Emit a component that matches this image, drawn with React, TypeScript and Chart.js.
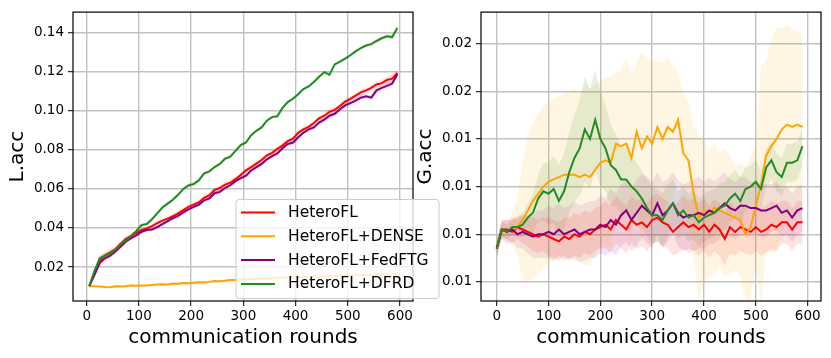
import React, { useEffect, useRef } from 'react';
import { Chart, registerables } from 'chart.js';

Chart.register(...registerables);

const FONT = 'DejaVu Sans';

// ---------- data ----------
const seriesNames = ['HeteroFL', 'HeteroFL+DENSE', 'HeteroFL+FedFTG', 'HeteroFL+DFRD'];
const seriesColors = ['#ff0000', '#ffa500', '#800080', '#228b22'];
const bandColors = ['rgba(255,0,0,0.11)', 'rgba(255,165,0,0.11)', 'rgba(128,0,128,0.11)', 'rgba(34,139,34,0.12)'];

const xTickValues = [0, 100, 200, 300, 400, 500, 600];
const xTickLabels = ['0', '100', '200', '300', '400', '500', '600'];
const leftYTickValues = [0.02, 0.04, 0.06, 0.08, 0.1, 0.12, 0.14];
const leftYTickLabels = ['0.02', '0.04', '0.06', '0.08', '0.10', '0.12', '0.14'];
const rightYTickValues = [0.008, 0.01, 0.012, 0.014, 0.016, 0.018];
const rightYTickLabels = ['0.01', '0.01', '0.01', '0.01', '0.02', '0.02'];

const leftRounds = [5, 15, 25, 35, 45, 55, 65, 75, 85, 95, 105, 115, 125, 135, 145, 155, 165, 175, 185, 195, 205, 215, 225, 235, 245, 255, 265, 275, 285, 295, 305, 315, 325, 335, 345, 355, 365, 375, 385, 395, 405, 415, 425, 435, 445, 455, 465, 475, 485, 495, 505, 515, 525, 535, 545, 555, 565, 575, 585, 595];

const leftHeteroFL = [0.0102, 0.0175, 0.0235, 0.026, 0.0275, 0.0292, 0.032, 0.0345, 0.036, 0.0375, 0.039, 0.0398, 0.041, 0.0425, 0.0438, 0.0448, 0.046, 0.0475, 0.0492, 0.0508, 0.052, 0.0532, 0.0555, 0.0568, 0.0595, 0.0605, 0.0622, 0.0632, 0.065, 0.0672, 0.0695, 0.0712, 0.073, 0.0748, 0.0772, 0.0785, 0.0805, 0.0822, 0.0845, 0.0858, 0.0888, 0.0905, 0.0918, 0.0938, 0.0962, 0.0975, 0.0995, 0.1005, 0.1025, 0.1048, 0.1062, 0.1078, 0.1095, 0.1105, 0.1118, 0.1135, 0.1142, 0.1158, 0.1165, 0.1195];
const leftDense = [0.0102, 0.0102, 0.01, 0.0098, 0.0097, 0.0101, 0.01, 0.0102, 0.0105, 0.0104, 0.0106, 0.0105, 0.0108, 0.011, 0.0112, 0.0111, 0.0115, 0.0114, 0.0118, 0.0117, 0.012, 0.0122, 0.0121, 0.0124, 0.0128, 0.0127, 0.013, 0.0134, 0.0133, 0.0136, 0.0138, 0.0139, 0.014, 0.0141, 0.0142, 0.0143, 0.0145, 0.0146, 0.0147, 0.0148, 0.0149, 0.015, 0.015, 0.0151, 0.0152, 0.0153, 0.0154, 0.0154, 0.0155, 0.0156, 0.0157, 0.0158, 0.0158, 0.0159, 0.016, 0.016, 0.0161, 0.0162, 0.0163, 0.0165];
const leftFedFTG = [0.0102, 0.016, 0.0222, 0.0245, 0.0258, 0.028, 0.0305, 0.033, 0.0348, 0.0362, 0.038, 0.039, 0.0392, 0.0405, 0.042, 0.0435, 0.045, 0.0462, 0.048, 0.0495, 0.0508, 0.052, 0.0542, 0.0552, 0.0578, 0.0585, 0.0605, 0.062, 0.064, 0.0655, 0.0668, 0.0695, 0.0712, 0.0728, 0.0752, 0.0768, 0.0782, 0.0808, 0.083, 0.0838, 0.0865, 0.0888, 0.0905, 0.0915, 0.094, 0.0955, 0.0975, 0.0985, 0.1008, 0.1028, 0.104, 0.1052, 0.1068, 0.1075, 0.1068, 0.1105, 0.1118, 0.1128, 0.114, 0.1188];
const leftDFRD = [0.0102, 0.018, 0.0245, 0.0258, 0.0268, 0.029, 0.0318, 0.0335, 0.036, 0.0385, 0.0415, 0.042, 0.0445, 0.0475, 0.0505, 0.0525, 0.0545, 0.057, 0.06, 0.0618, 0.0625, 0.0645, 0.068, 0.069, 0.0712, 0.0728, 0.0755, 0.0765, 0.0795, 0.0825, 0.0838, 0.0875, 0.0898, 0.0915, 0.095, 0.0968, 0.0972, 0.1015, 0.1045, 0.1062, 0.1085, 0.1112, 0.1125, 0.1148, 0.1175, 0.1198, 0.1185, 0.1238, 0.1252, 0.1268, 0.1285, 0.1305, 0.1322, 0.1335, 0.1342, 0.1358, 0.1372, 0.1382, 0.1378, 0.1425];

const leftHeteroFLStd = [0.0003, 0.0015, 0.0022, 0.0022, 0.002, 0.0016, 0.0012, 0.001, 0.0009, 0.0008, 0.0008, 0.0009, 0.001, 0.0011, 0.0012, 0.0012, 0.0013, 0.0014, 0.0014, 0.0013, 0.0012, 0.0013, 0.0014, 0.0015, 0.0014, 0.0013, 0.0014, 0.0015, 0.0014, 0.0013, 0.0012, 0.0013, 0.0014, 0.0013, 0.0012, 0.0013, 0.0014, 0.0013, 0.0012, 0.0013, 0.0014, 0.0015, 0.0014, 0.0013, 0.0014, 0.0015, 0.0016, 0.0015, 0.0014, 0.0015, 0.0016, 0.0017, 0.0016, 0.0015, 0.0016, 0.0017, 0.0018, 0.002, 0.0022, 0.0025];
const leftDenseStd = [0.0003, 0.0004, 0.0005, 0.0005, 0.0005, 0.0006, 0.0005, 0.0006, 0.0006, 0.0005, 0.0006, 0.0006, 0.0007, 0.0006, 0.0007, 0.0006, 0.0007, 0.0006, 0.0007, 0.0007, 0.0006, 0.0007, 0.0007, 0.0006, 0.0008, 0.0007, 0.0007, 0.0008, 0.0007, 0.0007, 0.0006, 0.0006, 0.0006, 0.0006, 0.0006, 0.0006, 0.0006, 0.0006, 0.0006, 0.0006, 0.0006, 0.0006, 0.0006, 0.0006, 0.0006, 0.0006, 0.0006, 0.0006, 0.0006, 0.0006, 0.0006, 0.0006, 0.0006, 0.0006, 0.0006, 0.0006, 0.0006, 0.0006, 0.0006, 0.0006];
const leftFedFTGStd = [0.0003, 0.0014, 0.002, 0.0021, 0.0019, 0.0015, 0.0012, 0.001, 0.0009, 0.0008, 0.0008, 0.0009, 0.001, 0.0011, 0.0012, 0.0012, 0.0012, 0.0013, 0.0013, 0.0012, 0.0012, 0.0013, 0.0014, 0.0014, 0.0013, 0.0013, 0.0014, 0.0014, 0.0014, 0.0013, 0.0013, 0.0014, 0.0014, 0.0013, 0.0013, 0.0014, 0.0014, 0.0014, 0.0013, 0.0014, 0.0015, 0.0014, 0.0014, 0.0013, 0.0014, 0.0015, 0.0015, 0.0014, 0.0014, 0.0015, 0.0015, 0.0016, 0.0016, 0.0015, 0.0016, 0.0016, 0.0017, 0.0017, 0.0018, 0.0018];
const leftDFRDStd = [0.0003, 0.0012, 0.0015, 0.0014, 0.0012, 0.001, 0.0009, 0.0008, 0.0008, 0.0009, 0.001, 0.0009, 0.0008, 0.0009, 0.001, 0.0011, 0.001, 0.0009, 0.001, 0.0011, 0.001, 0.0009, 0.0008, 0.0009, 0.001, 0.0009, 0.0008, 0.0008, 0.0009, 0.001, 0.0009, 0.0008, 0.0008, 0.0009, 0.0008, 0.0008, 0.0009, 0.0008, 0.0008, 0.0009, 0.0008, 0.0008, 0.0009, 0.0008, 0.0009, 0.0008, 0.0009, 0.0008, 0.0009, 0.0008, 0.0009, 0.001, 0.0009, 0.0008, 0.0009, 0.001, 0.001, 0.0011, 0.0012, 0.0012];

const rightRounds = [0, 10, 20, 30, 40, 50, 60, 70, 80, 90, 100, 110, 120, 130, 140, 150, 160, 170, 180, 190, 200, 210, 220, 230, 240, 250, 260, 270, 280, 290, 300, 310, 320, 330, 340, 350, 360, 370, 380, 390, 400, 410, 420, 430, 440, 450, 460, 470, 480, 490, 500, 510, 520, 530, 540, 550, 560, 570, 580, 590];

const rightHeteroFL = [0.0094, 0.0102, 0.0102, 0.0101, 0.0103, 0.0102, 0.0101, 0.01, 0.0099, 0.01, 0.0099, 0.0098, 0.0097, 0.0099, 0.0098, 0.01, 0.0099, 0.0101, 0.01, 0.0102, 0.0103, 0.0104, 0.0102, 0.0106, 0.0104, 0.0102, 0.0106, 0.0104, 0.0105, 0.0103, 0.0106, 0.0107, 0.0105, 0.0104, 0.0101, 0.0103, 0.0105, 0.0103, 0.0104, 0.0102, 0.0104, 0.0101, 0.0104, 0.0102, 0.0098, 0.0103, 0.0101, 0.0103, 0.0102, 0.0101, 0.0103, 0.0101, 0.0102, 0.0104, 0.0103, 0.0105, 0.0105, 0.0102, 0.0105, 0.0105];
const rightDense = [0.0094, 0.0102, 0.0101, 0.0102, 0.0103, 0.0106, 0.011, 0.0114, 0.0117, 0.012, 0.0122, 0.0123, 0.0124, 0.0125, 0.0125, 0.0125, 0.0124, 0.0125, 0.0124, 0.0127, 0.013, 0.0131, 0.013, 0.0138, 0.0137, 0.0138, 0.0132, 0.0143, 0.0136, 0.0141, 0.0138, 0.0145, 0.014, 0.0145, 0.0143, 0.0148, 0.0134, 0.0131, 0.0117, 0.0107, 0.011, 0.0109, 0.0111, 0.011, 0.0109, 0.0108, 0.0107, 0.0106, 0.01, 0.0103, 0.0112, 0.0121, 0.0133, 0.0137, 0.014, 0.0144, 0.0146, 0.0145, 0.0146, 0.0145];
const rightFedFTG = [0.0094, 0.0102, 0.0101, 0.0102, 0.01, 0.0101, 0.01, 0.0099, 0.01, 0.01, 0.0101, 0.01, 0.0102, 0.01, 0.0101, 0.0102, 0.01, 0.0101, 0.0102, 0.0102, 0.0104, 0.0103, 0.0106, 0.0104, 0.0108, 0.011, 0.0106, 0.0109, 0.0112, 0.011, 0.0108, 0.0113, 0.0108, 0.011, 0.0113, 0.0109, 0.0107, 0.0108, 0.0108, 0.0109, 0.0108, 0.011, 0.0109, 0.0111, 0.0113, 0.0111, 0.011, 0.0112, 0.0112, 0.0111, 0.0111, 0.011, 0.011, 0.0111, 0.0112, 0.0109, 0.011, 0.0107, 0.011, 0.0111];
const rightDFRD = [0.0094, 0.0102, 0.0101, 0.0103, 0.0103, 0.0104, 0.0107, 0.0109, 0.0115, 0.0118, 0.0117, 0.0119, 0.0114, 0.0118, 0.0126, 0.0132, 0.0136, 0.0144, 0.014, 0.0148, 0.014, 0.0136, 0.0129, 0.0127, 0.0123, 0.0123, 0.012, 0.0118, 0.0115, 0.0111, 0.0108, 0.0108, 0.0106, 0.011, 0.0113, 0.0108, 0.011, 0.0107, 0.0108, 0.0105, 0.0107, 0.0108, 0.0109, 0.0111, 0.0112, 0.0115, 0.0117, 0.0114, 0.0119, 0.012, 0.0122, 0.0119, 0.0128, 0.0131, 0.0126, 0.0124, 0.013, 0.013, 0.0131, 0.0137];

const rightHeteroFLStd = [0.0003, 0.0004, 0.0004, 0.0005, 0.0005, 0.0006, 0.0006, 0.0007, 0.0007, 0.0007, 0.0008, 0.0008, 0.0008, 0.0008, 0.0009, 0.0009, 0.0009, 0.0009, 0.0009, 0.0009, 0.0009, 0.001, 0.001, 0.001, 0.001, 0.001, 0.001, 0.001, 0.001, 0.001, 0.001, 0.001, 0.001, 0.001, 0.001, 0.0011, 0.0011, 0.0011, 0.0011, 0.0011, 0.0011, 0.0011, 0.0011, 0.0011, 0.0011, 0.0011, 0.001, 0.001, 0.001, 0.001, 0.001, 0.001, 0.001, 0.001, 0.001, 0.0009, 0.0009, 0.0009, 0.0009, 0.0009];
const rightDenseStd = [0.0005, 0.0003, 0.0003, 0.0007, 0.0012, 0.0025, 0.003, 0.0033, 0.0034, 0.0034, 0.0034, 0.0034, 0.0034, 0.0034, 0.0035, 0.0036, 0.0035, 0.0038, 0.0037, 0.0036, 0.0034, 0.0035, 0.0036, 0.003, 0.0032, 0.0036, 0.0035, 0.003, 0.004, 0.0033, 0.0035, 0.0028, 0.0032, 0.003, 0.0028, 0.002, 0.0025, 0.0025, 0.0028, 0.0034, 0.0031, 0.0026, 0.0028, 0.0024, 0.0027, 0.0025, 0.0022, 0.0024, 0.0028, 0.003, 0.0025, 0.005, 0.004, 0.0045, 0.0047, 0.0042, 0.0042, 0.0041, 0.0039, 0.0038];
const rightFedFTGStd = [0.0003, 0.0004, 0.0005, 0.0005, 0.0006, 0.0007, 0.0008, 0.0009, 0.001, 0.001, 0.0011, 0.0011, 0.0011, 0.0011, 0.0011, 0.0012, 0.0012, 0.0012, 0.0012, 0.0012, 0.0012, 0.0012, 0.0013, 0.0013, 0.0013, 0.0013, 0.0013, 0.0014, 0.0013, 0.0014, 0.0014, 0.0013, 0.0014, 0.0013, 0.0013, 0.0014, 0.0014, 0.0014, 0.0015, 0.0015, 0.0014, 0.0014, 0.0013, 0.0013, 0.0013, 0.0012, 0.0012, 0.0012, 0.0012, 0.0011, 0.0011, 0.0011, 0.0011, 0.001, 0.001, 0.001, 0.001, 0.001, 0.001, 0.001];
const rightDFRDStd = [0.0004, 0.0003, 0.0003, 0.0003, 0.0004, 0.0005, 0.0006, 0.0008, 0.001, 0.0012, 0.0013, 0.0014, 0.0015, 0.0016, 0.0017, 0.0018, 0.002, 0.0022, 0.0021, 0.0021, 0.002, 0.0018, 0.0017, 0.0015, 0.0014, 0.0013, 0.0013, 0.0012, 0.0012, 0.0012, 0.0012, 0.0011, 0.0011, 0.0011, 0.001, 0.001, 0.001, 0.001, 0.001, 0.001, 0.001, 0.001, 0.001, 0.001, 0.001, 0.001, 0.001, 0.001, 0.0009, 0.0009, 0.0009, 0.0008, 0.0008, 0.0008, 0.0008, 0.0008, 0.0008, 0.0008, 0.0008, 0.0008];

// ---------- chart helpers ----------
const GRID = '#c2c2c2';

function buildDatasets(rounds: number[], means: number[][], stds: number[][]) {
  const bands: any[] = [];
  const lines: any[] = [];
  means.forEach((m, i) => {
    const s = stds[i];
    bands.push({
      label: seriesNames[i] + ' upper',
      data: rounds.map((r, k) => ({ x: r, y: m[k] + s[k] })),
      borderColor: 'transparent',
      borderWidth: 1,
      pointRadius: 0,
      fill: false,
      order: 10,
    });
    bands.push({
      label: seriesNames[i] + ' lower',
      data: rounds.map((r, k) => ({ x: r, y: m[k] - s[k] })),
      borderColor: 'transparent',
      borderWidth: 1,
      pointRadius: 0,
      fill: '-1',
      backgroundColor: bandColors[i],
      order: 10,
    });
    lines.push({
      label: seriesNames[i],
      data: rounds.map((r, k) => ({ x: r, y: m[k] })),
      borderColor: seriesColors[i],
      borderWidth: 2,
      pointRadius: 0,
      fill: false,
      tension: 0,
      order: 4 - i,
    });
  });
  return [...bands, ...lines];
}

const spinePlugin = {
  id: 'spines',
  afterDatasetsDraw(chart: any) {
    const { ctx, chartArea: a } = chart;
    ctx.save();
    ctx.strokeStyle = '#000';
    ctx.lineWidth = 1.2;
    ctx.strokeRect(a.left, a.top, a.right - a.left, a.bottom - a.top);
    ctx.restore();
  },
};

const legendPlugin = {
  id: 'customLegend',
  afterDraw(chart: any) {
    const { ctx } = chart;
    const bx = 236, by = 199.5, bw = 203, bh = 99;
    ctx.save();
    ctx.beginPath();
    if (ctx.roundRect) ctx.roundRect(bx, by, bw, bh, 3);
    else ctx.rect(bx, by, bw, bh);
    ctx.fillStyle = 'rgba(255,255,255,0.8)';
    ctx.fill();
    ctx.strokeStyle = '#cccccc';
    ctx.lineWidth = 1;
    ctx.stroke();
    ctx.font = `15.5px ${FONT}`;
    ctx.textBaseline = 'middle';
    ctx.textAlign = 'left';
    seriesNames.forEach((name, i) => {
      const y = 212.5 + i * 23.8;
      ctx.strokeStyle = seriesColors[i];
      ctx.lineWidth = 2;
      ctx.beginPath();
      ctx.moveTo(241, y);
      ctx.lineTo(275, y);
      ctx.stroke();
      ctx.fillStyle = '#000';
      ctx.fillText(name, 288, y + 0.5);
    });
    ctx.restore();
  },
};

function makeOptions(cfg: {
  xMin: number; xMax: number; yMin: number; yMax: number;
  yTicks: number[]; yLabels: string[]; yTitle: string; yWidth: number;
  padRight: number; yTitlePad: number;
}) {
  return {
    responsive: false,
    maintainAspectRatio: false,
    animation: false as const,
    devicePixelRatio: 1,
    layout: { padding: { left: 0, top: 9, right: cfg.padRight, bottom: 0 } },
    plugins: { legend: { display: false }, tooltip: { enabled: false } },
    scales: {
      x: {
        type: 'linear' as const,
        min: cfg.xMin,
        max: cfg.xMax,
        afterBuildTicks: (s: any) => { s.ticks = xTickValues.map((v) => ({ value: v })); },
        afterFit: (s: any) => { s.height = 57; },
        ticks: {
          font: { family: FONT, size: 13.5 },
          color: '#000',
          padding: 2,
          maxRotation: 0,
          autoSkip: false,
          callback: (_v: any, i: number) => xTickLabels[i],
        },
        grid: { color: GRID, lineWidth: 1.4, tickLength: 5, tickColor: '#000', tickWidth: 1 },
        border: { display: false },
        title: {
          display: true,
          text: 'communication rounds',
          font: { family: FONT, size: 20 },
          color: '#000',
          padding: { top: 0, bottom: 8 },
        },
      },
      y: {
        type: 'linear' as const,
        min: cfg.yMin,
        max: cfg.yMax,
        afterBuildTicks: (s: any) => { s.ticks = cfg.yTicks.map((v) => ({ value: v })); },
        afterFit: (s: any) => { s.width = cfg.yWidth; },
        ticks: {
          font: { family: FONT, size: 13.5 },
          color: '#000',
          padding: 4,
          autoSkip: false,
          callback: (_v: any, i: number) => cfg.yLabels[i],
        },
        grid: { color: GRID, lineWidth: 1.4, tickLength: 5, tickColor: '#000', tickWidth: 1 },
        border: { display: false },
        title: {
          display: true,
          text: cfg.yTitle,
          font: { family: FONT, size: 20, lineHeight: 1.2 },
          color: '#000',
          padding: { top: cfg.yTitlePad, bottom: 0 },
        },
      },
    },
  };
}

export default function App() {
  const leftRef = useRef<HTMLCanvasElement>(null);
  const rightRef = useRef<HTMLCanvasElement>(null);

  useEffect(() => {
    const left = new Chart(leftRef.current!, {
      type: 'line',
      data: {
        datasets: buildDatasets(
          leftRounds,
          [leftHeteroFL, leftDense, leftFedFTG, leftDFRD],
          [leftHeteroFLStd, leftDenseStd, leftFedFTGStd, leftDFRDStd]
        ),
      },
      options: makeOptions({
        xMin: -26.2, xMax: 624.9, yMin: 0.0026, yMax: 0.1506,
        yTicks: leftYTickValues, yLabels: leftYTickLabels, yTitle: 'L.acc',
        yWidth: 73, padRight: 47, yTitlePad: 6,
      }) as any,
      plugins: [spinePlugin, legendPlugin],
    });
    const right = new Chart(rightRef.current!, {
      type: 'line',
      data: {
        datasets: buildDatasets(
          rightRounds,
          [rightHeteroFL, rightDense, rightFedFTG, rightDFRD],
          [rightHeteroFLStd, rightDenseStd, rightFedFTGStd, rightDFRDStd]
        ),
      },
      options: makeOptions({
        xMin: -30.3, xMax: 625.7, yMin: 0.0072, yMax: 0.01932,
        yTicks: rightYTickValues, yLabels: rightYTickLabels, yTitle: 'G.acc',
        yWidth: 66, padRight: 10, yTitlePad: -1,
      }) as any,
      plugins: [spinePlugin],
    });
    return () => {
      left.destroy();
      right.destroy();
    };
  }, []);

  return (
    <div style={{ position: 'fixed', left: 0, top: 0, width: 831, height: 358, background: '#fff' }}>
      <canvas
        ref={rightRef}
        width={416}
        height={358}
        style={{ position: 'absolute', left: 415, top: 0, width: 416, height: 358, zIndex: 1 }}
      />
      <canvas
        ref={leftRef}
        width={460}
        height={358}
        style={{ position: 'absolute', left: 0, top: 0, width: 460, height: 358, zIndex: 2 }}
      />
    </div>
  );
}
